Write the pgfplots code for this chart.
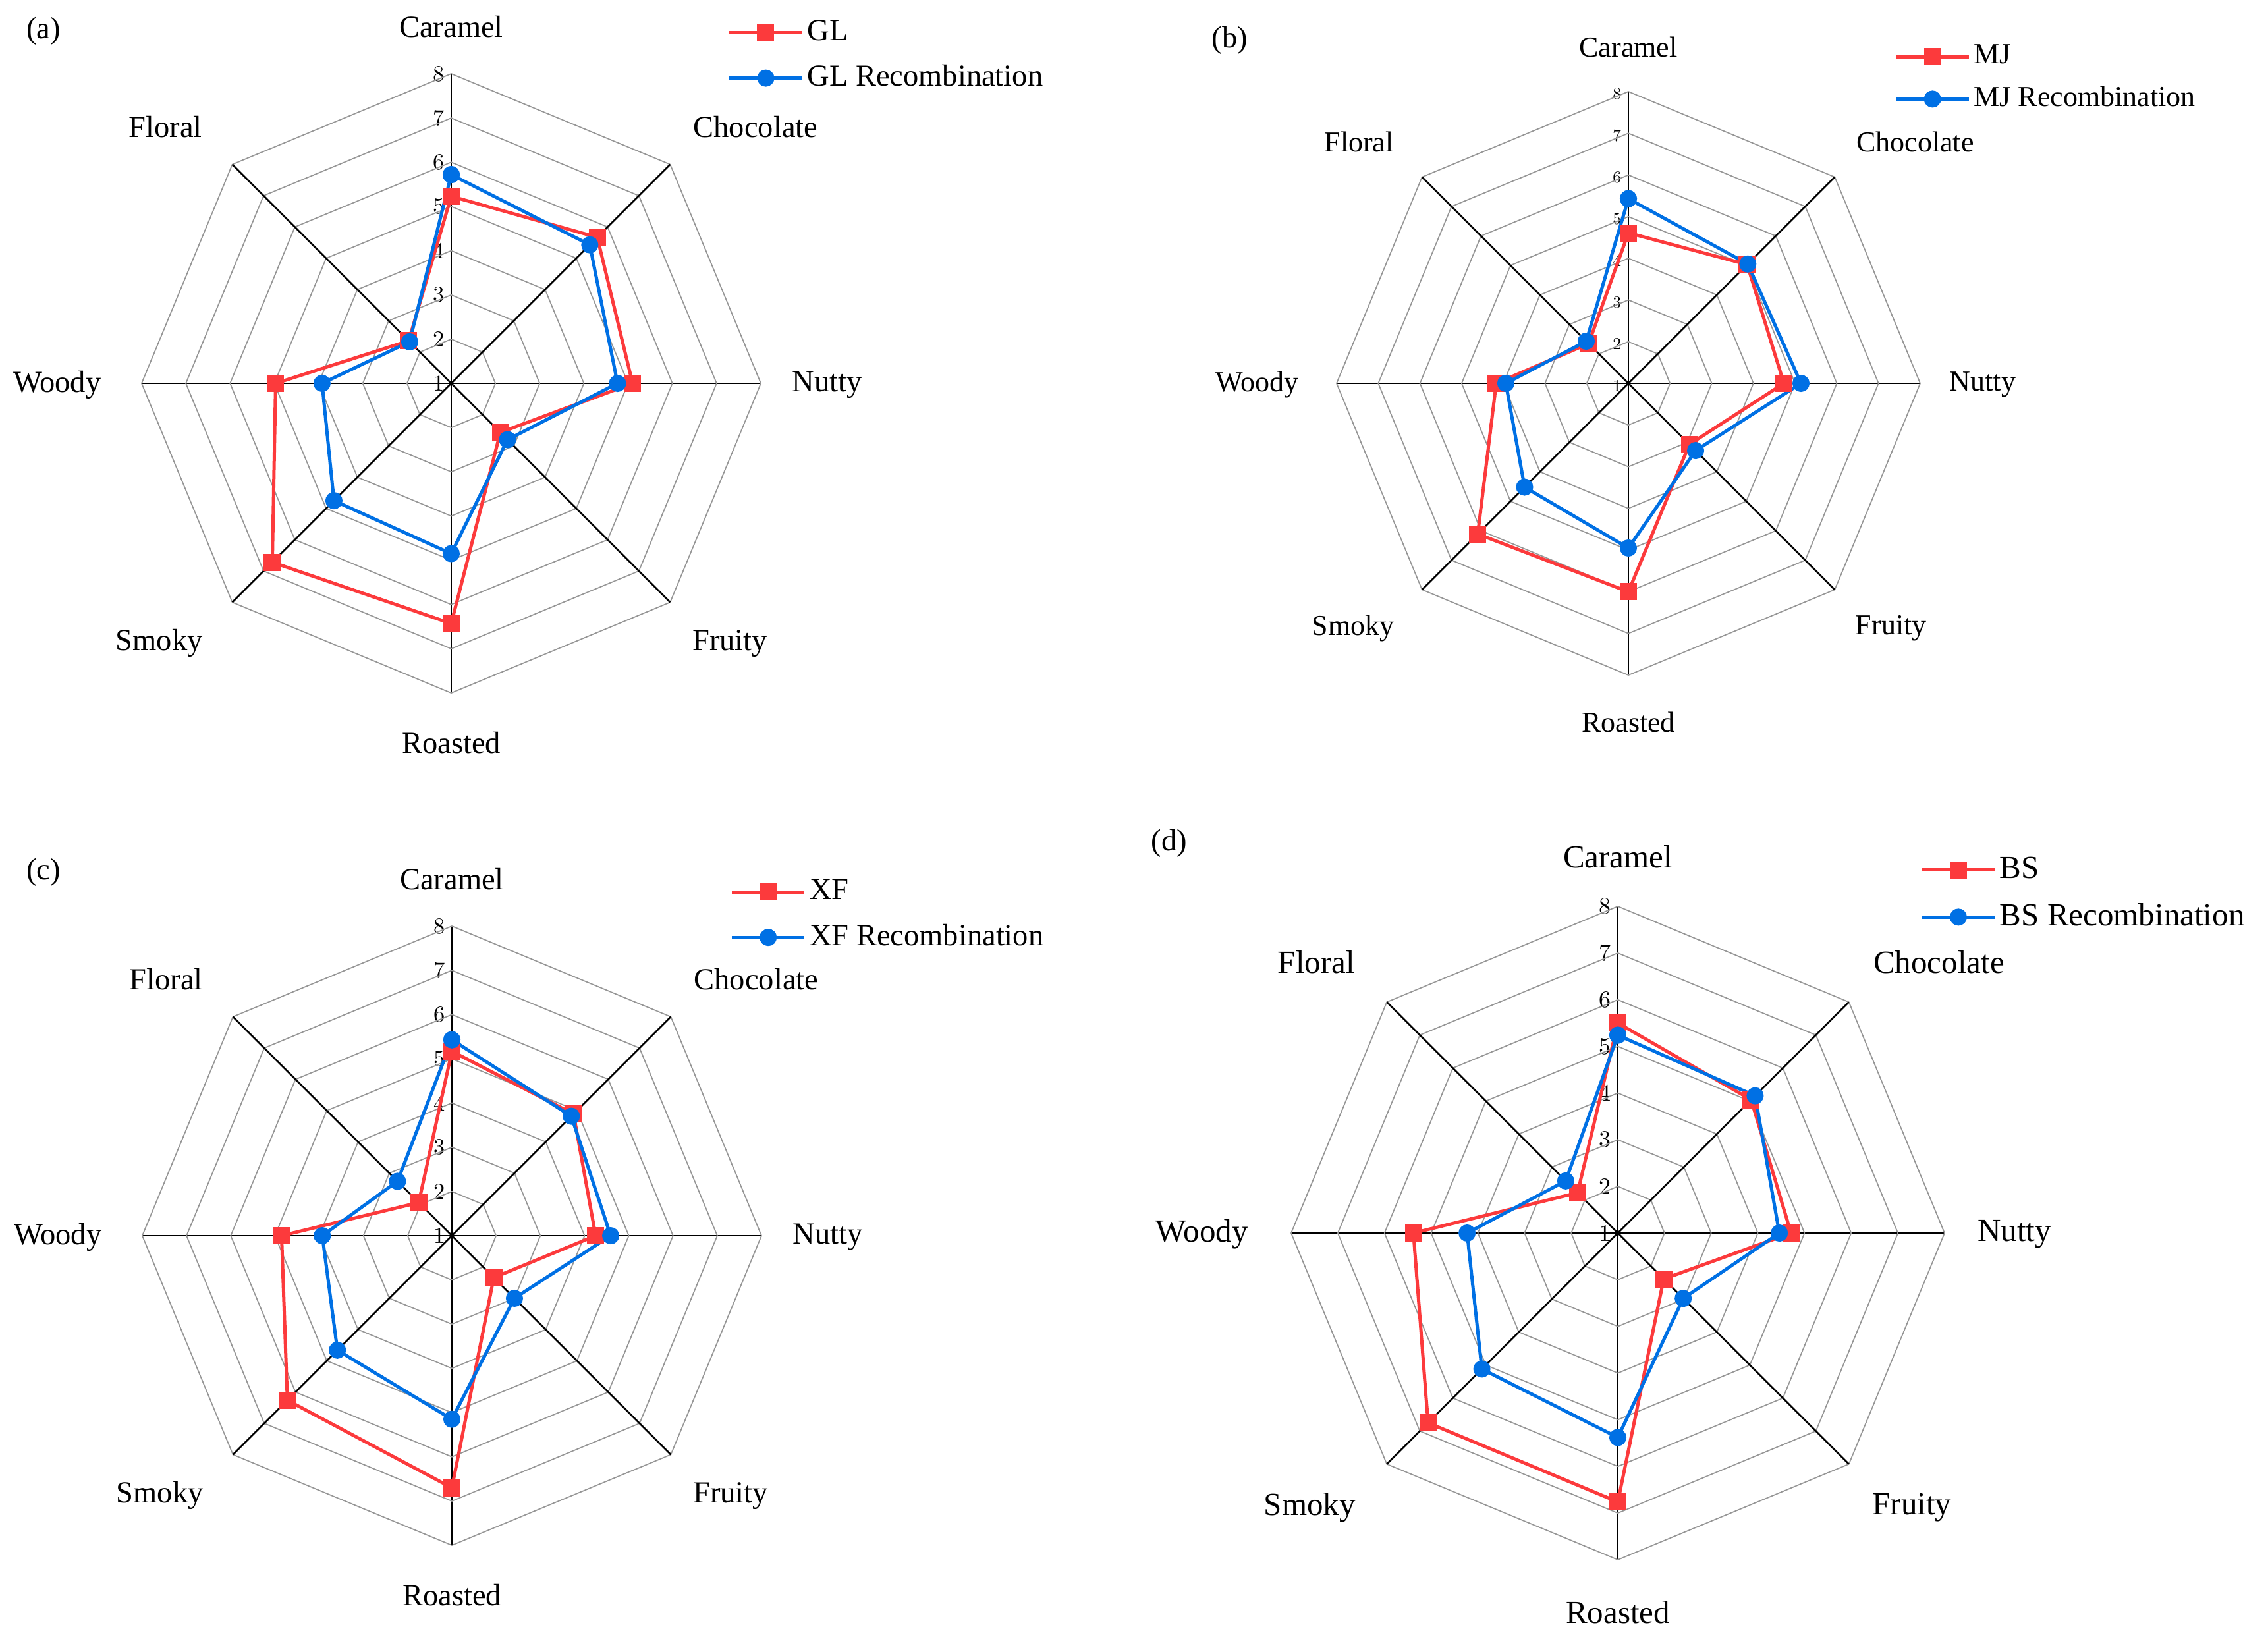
\documentclass[border=0pt]{standalone}
\usepackage{fontspec}
\setmainfont{Liberation Serif}
\newfontfamily\tickfont{lmroman10-regular}[Extension=.otf]
\usepackage{pgfplots}
\usepackage{pgfplotstable}
\pgfplotsset{compat=1.18}

\definecolor{cred}{RGB}{252,58,60}
\definecolor{cblue}{RGB}{0,112,228}
\definecolor{gridgray}{RGB}{150,150,150}

% angle (deg), sample, recombination
\pgfplotstableread{
ang  ref  rec
90   5.23 5.72
45   5.67 5.43
0    5.10 4.76
-45  2.57 2.80
-90  6.43 4.85
-135 6.72 4.75
180  4.97 3.92
135  2.36 2.33
90   5.23 5.72
}\dataGL
\pgfplotstableread{
ang  ref  rec
90   4.61 5.43
45   5.03 5.05
0    4.73 5.14
-45  3.07 3.28
-90  6.00 4.95
-135 6.11 4.52
180  4.17 3.94
135  2.35 2.43
90   4.61 5.43
}\dataMJ
\pgfplotstableread{
ang  ref  rec
90   5.17 5.43
45   4.89 4.82
0    4.25 4.59
-45  2.34 3.00
-90  6.70 5.15
-135 6.26 4.66
180  4.85 3.93
135  2.06 2.74
90   5.17 5.43
}\dataXF
\pgfplotstableread{
ang  ref  rec
90   5.50 5.24
45   5.04 5.16
0    4.71 4.46
-45  2.39 2.98
-90  6.76 5.38
-135 6.75 5.12
180  5.38 4.23
135  2.22 2.58
90   5.50 5.24
}\dataBS

\pgfplotsset{
  legend image code/.code={\draw[mark repeat=2,mark phase=2,#1] plot coordinates {(0pt,0pt)(11pt,0pt)(22pt,0pt)};},
  radar/.style={
    scale only axis, anchor=center,
    xmin=-7, xmax=7, ymin=-7, ymax=7,
    axis lines=center,
    axis line style={-, black, line width=0.55pt},
    every inner x axis line/.append style={-},
    every inner y axis line/.append style={-},
    xtick=\empty,
    ytick={0,1,2,3,4,5,6,7},
    yticklabels={1,2,3,4,5,6,7,8},
    hide obscured y ticks=false,
    major tick length=0pt,
    /pgf/number format/assume math mode=true,
    clip=false,
    legend cell align=left,
  },
  refline/.style={cred, line width=1pt, mark=square*, mark size=2.1pt, mark options={solid}},
  recline/.style={cblue, line width=1pt, mark=*, mark size=2.1pt, mark options={solid}},
}

\newcommand{\radargrid}{%
  \pgfplotsinvokeforeach{1,...,7}{%
    \addplot[forget plot, gridgray, line width=0.35pt, mark=none, data cs=polar]
      coordinates {(0,##1)(45,##1)(90,##1)(135,##1)(180,##1)(225,##1)(270,##1)(315,##1)(360,##1)};}
  \addplot[forget plot, black, line width=0.55pt, mark=none, data cs=polar] coordinates {(45,7)(225,7)};
  \addplot[forget plot, black, line width=0.55pt, mark=none, data cs=polar] coordinates {(135,7)(315,7)};
}
\newcommand{\radarlabels}[1]{%
  \node[font=#1] at (axis cs:0,8.06) {Caramel};
  \node[font=#1] at (axis cs:6.88,5.80) {Chocolate};
  \node[font=#1] at (axis cs:8.5,-0.03) {Nutty};
  \node[font=#1] at (axis cs:6.3,-5.88) {Fruity};
  \node[font=#1] at (axis cs:0,-8.13) {Roasted};
  \node[font=#1] at (axis cs:-6.6,-5.88) {Smoky};
  \node[font=#1] at (axis cs:-8.91,-0.03) {Woody};
  \node[font=#1] at (axis cs:-6.46,5.80) {Floral};
}

\begin{document}
\begin{tikzpicture}
\useasboundingbox (0pt,0pt) rectangle (688.6pt,-501pt);

% (a)
\begin{axis}[radar, at={(137pt,-116.4pt)}, width=188pt, height=188pt,
  yticklabel style={font=\tickfont\fontsize{6.9}{8}\selectfont, anchor=east, inner sep=0pt, xshift=-1.8pt, yshift=0pt},
  legend style={draw=none, fill=none, at={(axis cs:6.24,7.41)}, anchor=west, inner sep=0pt,
    font=\fontsize{9.3}{11}\selectfont, row sep=3.8pt, nodes={inner sep=1.1pt}}]
\radargrid
\addplot[refline, data cs=polar] table[x=ang, y expr=\thisrow{ref}-1] {\dataGL};
\addlegendentry{GL}
\addplot[recline, data cs=polar] table[x=ang, y expr=\thisrow{rec}-1] {\dataGL};
\addlegendentry{GL Recombination}
\radarlabels{\fontsize{9.3}{11}\selectfont}
\end{axis}

% (b)
\begin{axis}[radar, at={(494.4pt,-116.4pt)}, width=177.2pt, height=177.2pt,
  yticklabel style={font=\tickfont\fontsize{5.1}{6}\selectfont, anchor=east, inner sep=0pt, xshift=-2pt, yshift=-0.7pt},
  legend style={draw=none, fill=none, at={(axis cs:6.37,7.32)}, anchor=west, inner sep=0pt,
    font=\fontsize{8.8}{10.5}\selectfont, row sep=3.2pt, nodes={inner sep=1.1pt}}]
\radargrid
\addplot[refline, data cs=polar] table[x=ang, y expr=\thisrow{ref}-1] {\dataMJ};
\addlegendentry{MJ}
\addplot[recline, data cs=polar] table[x=ang, y expr=\thisrow{rec}-1] {\dataMJ};
\addlegendentry{MJ Recombination}
\radarlabels{\fontsize{8.8}{10.5}\selectfont}
\end{axis}

% (c)
\begin{axis}[radar, at={(137.2pt,-375.2pt)}, width=188pt, height=188pt,
  yticklabel style={font=\tickfont\fontsize{6.9}{8}\selectfont, anchor=east, inner sep=0pt, xshift=-1.8pt, yshift=0pt},
  legend style={draw=none, fill=none, at={(axis cs:6.28,7.25)}, anchor=west, inner sep=0pt,
    font=\fontsize{9.3}{11}\selectfont, row sep=3.8pt, nodes={inner sep=1.1pt}}]
\radargrid
\addplot[refline, data cs=polar] table[x=ang, y expr=\thisrow{ref}-1] {\dataXF};
\addlegendentry{XF}
\addplot[recline, data cs=polar] table[x=ang, y expr=\thisrow{rec}-1] {\dataXF};
\addlegendentry{XF Recombination}
\radarlabels{\fontsize{9.3}{11}\selectfont}
\end{axis}

% (d)
\begin{axis}[radar, at={(491.2pt,-374.4pt)}, width=198.4pt, height=198.4pt,
  yticklabel style={font=\tickfont\fontsize{7.2}{8.4}\selectfont, anchor=east, inner sep=0pt, xshift=-1.9pt, yshift=0pt},
  legend style={draw=none, fill=none, at={(axis cs:6.47,7.27)}, anchor=west, inner sep=0pt,
    font=\fontsize{9.8}{11.5}\selectfont, row sep=4pt, nodes={inner sep=1.1pt}}]
\radargrid
\addplot[refline, data cs=polar] table[x=ang, y expr=\thisrow{ref}-1] {\dataBS};
\addlegendentry{BS}
\addplot[recline, data cs=polar] table[x=ang, y expr=\thisrow{rec}-1] {\dataBS};
\addlegendentry{BS Recombination}
\radarlabels{\fontsize{9.8}{11.5}\selectfont}
\end{axis}

\node[font=\fontsize{9.3}{11}\selectfont] at (13.2pt,-9.4pt) {(a)};
\node[font=\fontsize{9.3}{11}\selectfont] at (373.4pt,-12.2pt) {(b)};
\node[font=\fontsize{9.3}{11}\selectfont] at (13.2pt,-264.8pt) {(c)};
\node[font=\fontsize{9.3}{11}\selectfont] at (355pt,-256pt) {(d)};
\end{tikzpicture}
\end{document}
